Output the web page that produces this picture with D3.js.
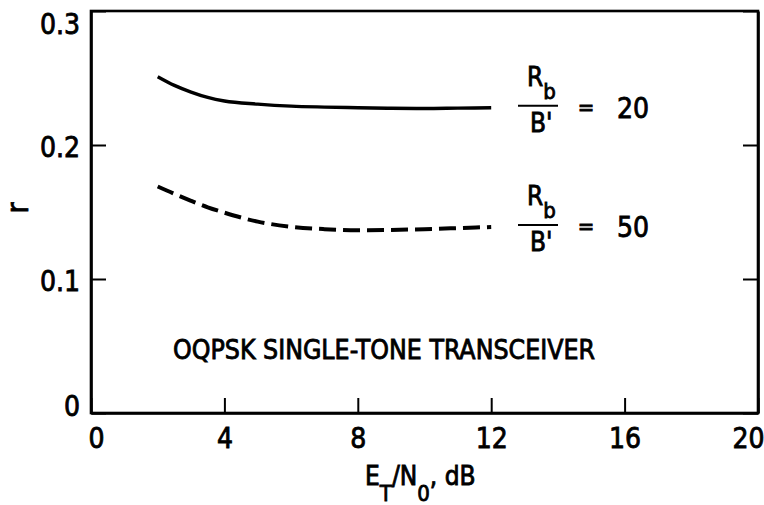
<!DOCTYPE html>
<html><head><meta charset="utf-8">
<script src="https://cdn.jsdelivr.net/npm/d3@7"></script>
<style>
body{margin:0;background:#fff}
svg{display:block;background:#fff}
text{font-family:"DejaVu Sans Condensed","Liberation Sans Narrow","Liberation Sans",sans-serif;fill:#000;stroke:#000;stroke-width:0.8px}
</style>
</head><body><svg id="c" width="764" height="505"></svg>
<script>
// ---- data ----
const xTicks = [0, 4, 8, 12, 16, 20];
const xTickLabels = ["0", "4", "8", "12", "16", "20"];
const yTicks = [0, 0.1, 0.2, 0.3];
const yTickLabels = ["0", "0.1", "0.2", "0.3"];
const snrDb = [2, 2.5, 3, 3.5, 4, 5, 6, 7, 8, 9, 10, 11, 12];
const rRatio20 = [0.251, 0.2445, 0.2395, 0.2355, 0.2328, 0.2305, 0.229, 0.2283, 0.2278, 0.2274, 0.2272, 0.2275, 0.2278];
const rRatio50 = [0.169, 0.1635, 0.1583, 0.1535, 0.1495, 0.1428, 0.139, 0.1372, 0.1364, 0.1366, 0.1372, 0.138, 0.1388];
const ratioValues = ["20", "50"];
const titleText = "OQPSK SINGLE-TONE TRANSCEIVER";
const yLabel = "r";

// ---- layout ----
const FF = '"DejaVu Sans Condensed","Liberation Sans Narrow","Liberation Sans",sans-serif';
const svg = d3.select("#c");
const L = 91, R = 758, T = 11, B = 413;
const x = d3.scaleLinear().domain([0, 20]).range([L, R]);
const y = d3.scaleLinear().domain([0, 0.3]).range([B, T]);

// axes
const fontSize = 28;
const gx = svg.append("g").attr("transform", `translate(0,${B})`)
  .call(d3.axisBottom(x).tickValues(xTicks).tickFormat((d, i) => xTickLabels[i]).tickSize(-15).tickSizeOuter(0).tickPadding(15));
const gy = svg.append("g").attr("transform", `translate(${L},0)`)
  .call(d3.axisLeft(y).tickValues(yTicks).tickFormat((d, i) => yTickLabels[i]).tickSize(-15).tickSizeOuter(0).tickPadding(11));
const gr = svg.append("g").attr("transform", `translate(${R},0)`)
  .call(d3.axisRight(y).tickValues(yTicks).tickFormat("").tickSize(-15).tickSizeOuter(0));

[gx, gy, gr].forEach(g => {
  g.attr("font-family", FF).attr("font-size", fontSize);
  g.selectAll(".domain").attr("stroke", "#000").attr("stroke-width", 2.6);
  g.selectAll(".tick line").attr("stroke", "#000").attr("stroke-width", 2);
  g.selectAll("text").attr("font-size", fontSize).attr("fill", "#000");
});
// keep edge labels inside the drawing
gx.selectAll(".tick text").attr("dx", d => d === 0 ? 5 : (d === 20 ? -10 : 0));
gy.selectAll(".tick text").attr("dy", d => d === 0.3 ? "0.8em" : (d === 0 ? "0.08em" : "0.4em"));
// frame
svg.append("rect").attr("x", L).attr("y", T).attr("width", R - L).attr("height", B - T)
  .attr("fill", "none").attr("stroke", "#000").attr("stroke-width", 2.6);

// lines
const line = d3.line().x(d => x(d[0])).y(d => y(d[1])).curve(d3.curveMonotoneX);
const series = [rRatio20, rRatio50];
series.forEach((vals, i) => {
  svg.append("path")
    .datum(snrDb.map((s, k) => [s, vals[k]]))
    .attr("fill", "none").attr("stroke", "#000")
    .attr("stroke-width", i === 0 ? 3.4 : 4)
    .attr("stroke-dasharray", i === 0 ? null : "17,7")
    .attr("d", line);
});

// legend labels next to the line ends
series.forEach((vals, i) => {
  const ye = y(vals[vals.length - 1]);
  const g = svg.append("g");
  const rt = g.append("text").attr("x", 527).attr("y", ye - 22).attr("font-size", 26);
  rt.append("tspan").text("R");
  rt.append("tspan").attr("font-size", 22).attr("dy", 13).text("b");
  g.append("line").attr("x1", 518).attr("x2", 558).attr("y1", ye - 2).attr("y2", ye - 2)
    .attr("stroke", "#000").attr("stroke-width", 2);
  g.append("text").attr("x", 530).attr("y", ye + 24).attr("font-size", 26).text("B'");
  g.append("text").attr("x", 586).attr("y", ye + 7).attr("font-size", 22).attr("text-anchor", "middle").text("=");
  g.append("text").attr("x", 617).attr("y", ye + 10).attr("font-size", 28).text(ratioValues[i]);
});

// annotation
svg.append("text").attr("x", 173).attr("y", 359).attr("font-size", 26)
  .attr("textLength", 422).attr("lengthAdjust", "spacingAndGlyphs").text(titleText);

// y label
svg.append("text").attr("transform", "translate(28,208) rotate(-90)")
  .attr("text-anchor", "middle").attr("font-size", 30).text(yLabel);

// x label
const xl = svg.append("text").attr("x", 365).attr("y", 485).attr("font-size", 26);
xl.append("tspan").text("E");
xl.append("tspan").attr("dy", 16).attr("font-size", 22).text("T");
xl.append("tspan").attr("dy", -16).text("/N");
xl.append("tspan").attr("dy", 16).attr("font-size", 22).text("0");
xl.append("tspan").attr("dy", -16).text(",  dB");
</script>
</body></html>
